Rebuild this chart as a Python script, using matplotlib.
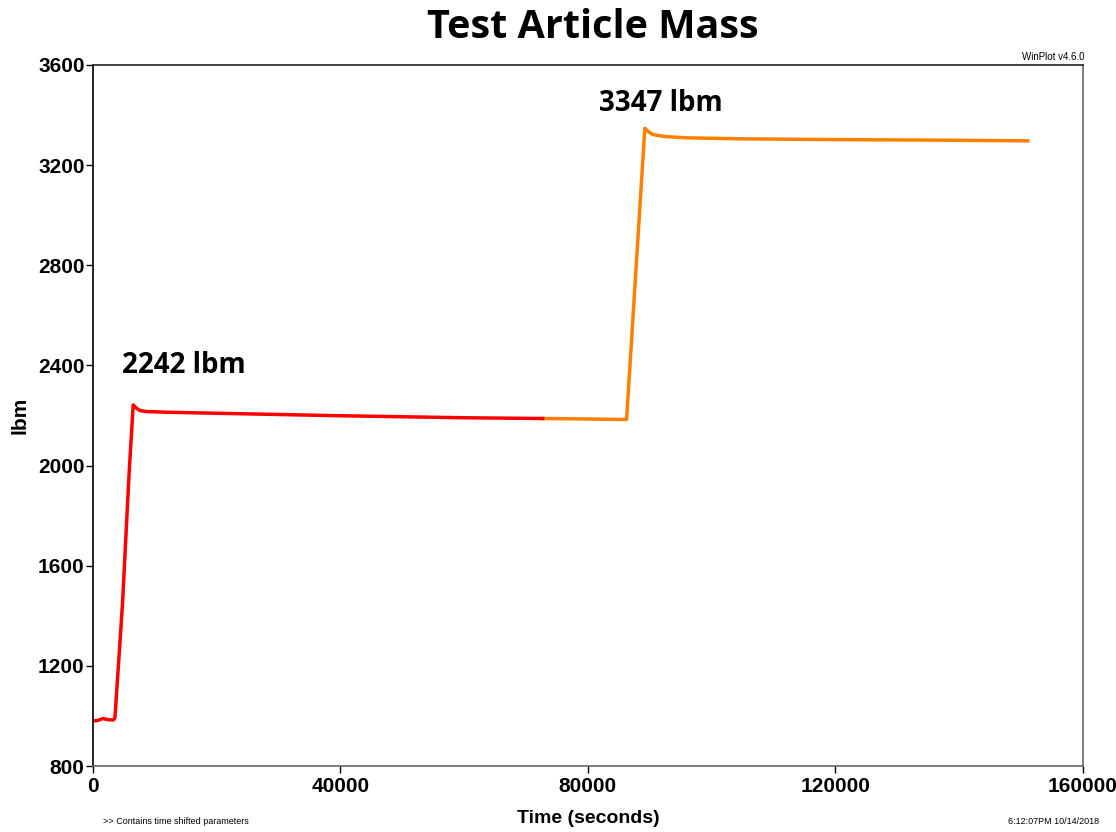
import matplotlib.pyplot as plt

# red trace (first fill)
t_red = [0, 800, 1600, 2400, 3300, 3550, 4120, 4790, 5820, 6500,
         7100, 7600, 8500, 12000, 20000, 30000, 40000, 50000, 60000, 72700]
m_red = [980, 982, 990, 985, 984, 992, 1203, 1455, 1960, 2242,
         2228, 2220, 2216, 2213, 2209, 2204, 2199, 2195, 2191, 2188]

# orange trace (second fill)
t_org = [72700, 80000, 86250, 89200,
         89700, 90500, 92500, 96000, 105000, 120000, 135000, 151100]
m_org = [2188, 2186, 2184, 3347,
         3335, 3322, 3314, 3309, 3305, 3302, 3300, 3297]

peak_labels = ['2242 lbm', '3347 lbm']
peak_pos = [(14700, 2400), (91800, 3448)]

yticks = [800, 1200, 1600, 2000, 2400, 2800, 3200, 3600]
xticks = [0, 40000, 80000, 120000, 160000]

tick_font = {'family': 'Liberation Sans', 'weight': 'bold', 'size': 15}

fig = plt.figure(figsize=(11.16, 8.32), dpi=100)
ax = fig.add_axes([0.0833, 0.0793, 0.887, 0.8426])

ax.plot(t_org, m_org, color='#ff8000', lw=2.5, solid_joinstyle='round')
ax.plot(t_red, m_red, color='#ff0000', lw=2.5, solid_joinstyle='round')

ax.set_xlim(0, 160000)
ax.set_ylim(800, 3600)
ax.set_xticks(xticks)
ax.set_yticks(yticks)
ax.set_xticklabels([str(v) for v in xticks], fontdict=tick_font)
ax.set_yticklabels([str(v) for v in yticks], fontdict=tick_font)
ax.tick_params(axis='both', direction='out', length=5, width=1, pad=1)
ax.tick_params(axis='x', pad=3)

ax.spines['left'].set_color('black')
ax.spines['top'].set_color('#222222')
ax.spines['bottom'].set_color('#666666')
ax.spines['right'].set_color('#666666')
for s in ax.spines.values():
    s.set_linewidth(1.2)

ax.set_xlabel('Time (seconds)', fontdict={'family': 'Liberation Sans', 'weight': 'bold', 'size': 14},
              labelpad=10)
ax.set_ylabel('lbm', fontdict={'family': 'Liberation Sans', 'weight': 'bold', 'size': 15},
              labelpad=6)

for lab, (x, y) in zip(peak_labels, peak_pos):
    ax.text(x, y, lab, ha='center', va='center', fontsize=20, fontweight='bold',
            family='Open Sans')

fig.text(0.531, 0.967, 'Test Article Mass', ha='center', va='center',
         fontsize=28.5, fontweight='bold', family='Open Sans')

fig.text(0.972, 0.926, 'WinPlot v4.6.0', ha='right', va='bottom', fontsize=7,
         family='Liberation Sans')
fig.text(0.092, 0.007, '>> Contains time shifted parameters', ha='left', va='bottom',
         fontsize=6.5, family='Liberation Sans')
fig.text(0.985, 0.007, '6:12:07PM 10/14/2018', ha='right', va='bottom',
         fontsize=6.5, family='Liberation Sans')

fig.savefig('out.png', dpi=100)
